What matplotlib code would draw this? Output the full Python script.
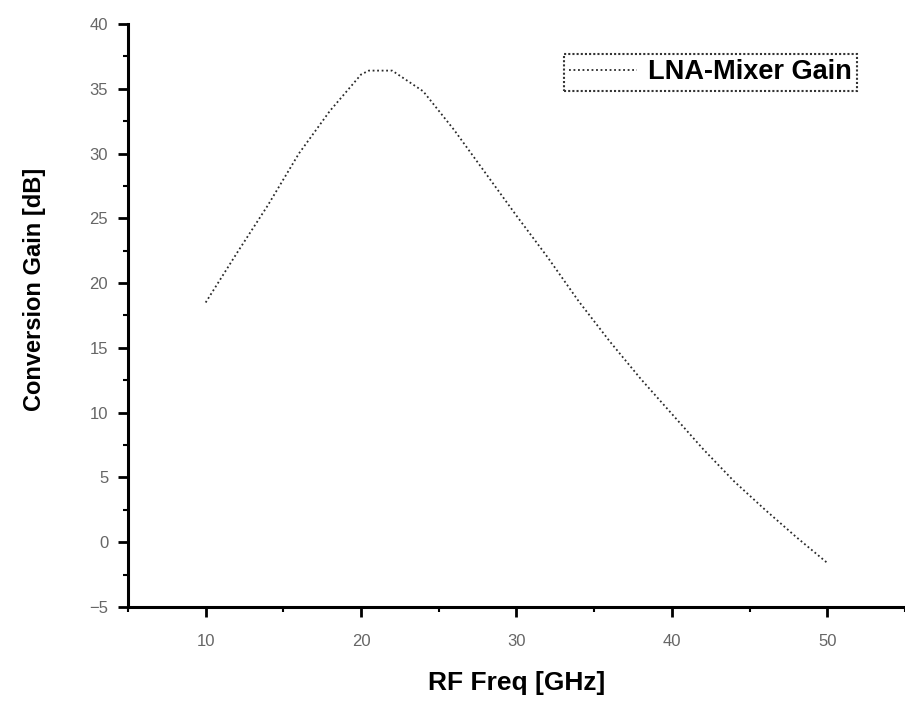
import numpy as np
import matplotlib
matplotlib.use('Agg')
from matplotlib import pyplot as plt
from matplotlib.ticker import MultipleLocator

plt.rcParams['font.family'] = ['Liberation Sans', 'DejaVu Sans']

# RF frequency [GHz] and LNA-mixer conversion gain [dB]
rf_freq = [10, 12, 14, 16, 18, 20, 20.5, 22, 23, 24, 26, 28, 30, 32, 34, 36, 38, 40, 42, 44, 46, 48, 50]
gain_db = [18.5, 22.3, 26.0, 30.0, 33.3, 36.1, 36.4, 36.4, 35.6, 34.8, 31.8, 28.5, 25.2, 22.0, 18.6,
           15.5, 12.6, 9.9, 7.2, 4.7, 2.5, 0.4, -1.6]

x_ticks = [10, 20, 30, 40, 50]
y_ticks = [-5, 0, 5, 10, 15, 20, 25, 30, 35, 40]

fig = plt.figure(figsize=(9.05, 7.03), dpi=100)
ax = fig.add_axes([0.1414, 0.1366, 0.8586, 0.8293])

ax.plot(rf_freq, gain_db, linestyle=(0, (1, 1.5)), color='#2a2a2a', linewidth=1.3, label='LNA-Mixer Gain')

ax.set_xlim(5, 55)
ax.set_ylim(-5, 40)
ax.set_xticks(x_ticks)
ax.set_yticks(y_ticks)
ax.xaxis.set_minor_locator(MultipleLocator(5))
ax.yaxis.set_minor_locator(MultipleLocator(2.5))

for side in ['top', 'right']:
    ax.spines[side].set_visible(False)
for side in ['left', 'bottom']:
    ax.spines[side].set_linewidth(2.2)
    ax.spines[side].set_color('black')

ax.tick_params(which='major', direction='out', length=7.2, width=2, labelsize=12, labelcolor='#666666')
ax.tick_params(axis='y', which='major', pad=7)
ax.tick_params(axis='x', which='major', pad=12)
ax.tick_params(which='minor', direction='out', length=3.6, width=1.5)

ax.set_xlabel('RF Freq [GHz]', fontsize=19, fontweight='bold', labelpad=16)
ax.set_ylabel('Conversion Gain [dB]', fontsize=17, fontweight='bold')
ax.yaxis.set_label_coords(-0.106, 0.544)

leg = ax.legend(loc='upper right', bbox_to_anchor=(0.938, 0.949), borderaxespad=0,
                prop={'weight': 'bold', 'size': 19.5},
                frameon=True, fancybox=False, handlelength=2.5, borderpad=0.2, handletextpad=0.4)
leg.get_frame().set_edgecolor('black')
leg.get_frame().set_linestyle((0, (1, 1)))
leg.get_frame().set_linewidth(1.5)

fig.savefig('out.png', dpi=100)
